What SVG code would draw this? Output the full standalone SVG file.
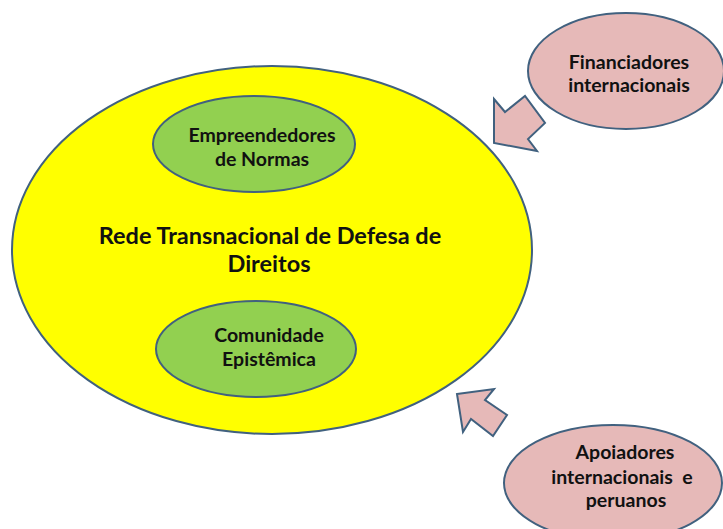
<svg xmlns="http://www.w3.org/2000/svg" width="723" height="529" viewBox="0 0 723 529">
<style>
.sh{stroke:#41617F;stroke-width:2}
.yel{fill:#FFFF00}
.grn{fill:#92D050}
.pnk{fill:#E6B9B8}
text{font-family:Lato,"Open Sans","Liberation Sans",sans-serif;font-weight:bold;fill:#111;text-anchor:middle}
.big{font-size:23.5px}
.mid{font-size:19.5px}
</style>
<rect width="723" height="529" fill="#fff"/>
<g id="rede">
<ellipse class="sh yel" cx="272" cy="250" rx="260" ry="184"/>
<text class="big" x="270" y="244">Rede Transnacional de Defesa de</text>
<text class="big" x="269" y="272">Direitos</text>
</g>
<g id="empreendedores">
<ellipse class="sh grn" cx="254" cy="144" rx="101" ry="48"/>
<text class="mid" x="262" y="142">Empreendedores</text>
<text class="mid" x="262" y="166">de Normas</text>
</g>
<g id="comunidade">
<ellipse class="sh grn" cx="256" cy="349" rx="100" ry="48"/>
<text class="mid" x="269" y="342">Comunidade</text>
<text class="mid" x="269" y="366">Epistêmica</text>
</g>
<g id="financiadores">
<ellipse class="sh pnk" cx="626" cy="71" rx="98" ry="58"/>
<text class="mid" x="629" y="69">Financiadores</text>
<text class="mid" x="629" y="92">internacionais</text>
</g>
<g id="apoiadores">
<ellipse class="sh pnk" cx="613" cy="483" rx="109" ry="58"/>
<text class="mid" x="625" y="459">Apoiadores</text>
<text class="mid" x="622" y="484">internacionais&#160; e</text>
<text class="mid" x="626" y="507">peruanos</text>
</g>
<g id="connectors">
<polygon class="sh pnk" points="494,99 505,112 525,96 545,123 528,139 537,151 494,143" stroke-linejoin="miter"/>
<polygon class="sh pnk" points="457,394 494,389 485,400 507,415 493,436 471,419 463,432" stroke-linejoin="miter"/>
</g>
</svg>
